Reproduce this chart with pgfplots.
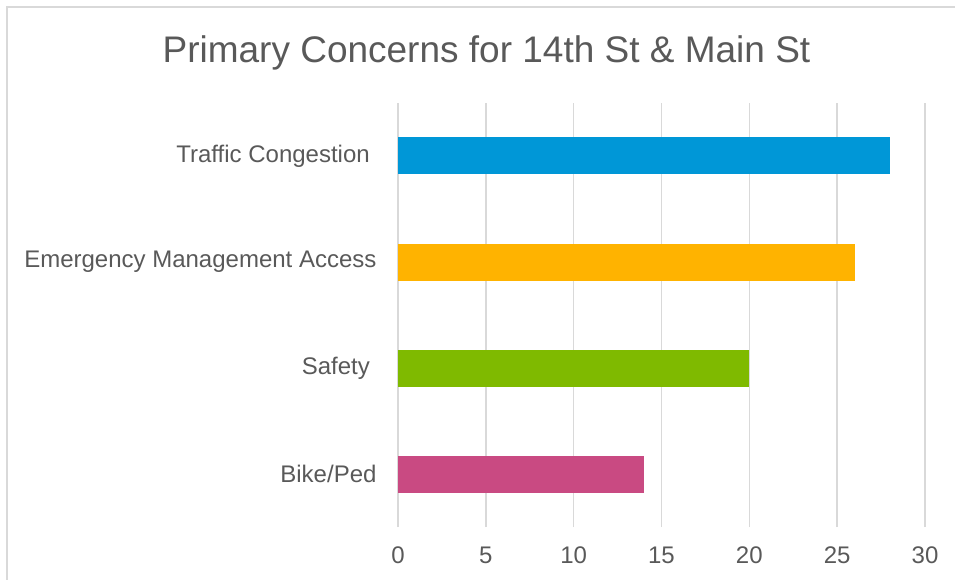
\documentclass[border=0pt]{standalone}
\usepackage{fontspec}
\setmainfont{Liberation Sans}
\usepackage{pgfplots}
\pgfplotsset{compat=1.18}
\definecolor{txt}{HTML}{595959}
\definecolor{gridc}{HTML}{D9D9D9}
\definecolor{cA}{HTML}{0097D7}
\definecolor{cB}{HTML}{FFB300}
\definecolor{cC}{HTML}{7FBA00}
\definecolor{cD}{HTML}{C94A82}
\begin{document}
\begin{tikzpicture}[x=1pt,y=1pt]
\path[use as bounding box] (0,0) rectangle (955,579);
\draw[gridc,line width=1.5pt] (7,-5) -- (7,572) -- (960,572);
\node[text=txt,font=\fontsize{37}{44}\selectfont] at (486.5,526) {Primary Concerns for 14th St \& Main St};
\begin{axis}[
  at={(398pt,52pt)}, anchor=south west,
  scale only axis, width=527pt, height=424pt,
  xmin=0, xmax=30, ymin=-0.5, ymax=3.5,
  xtick={0,5,...,30},
  ytick={0,1,2,3},
  yticklabels={Bike/Ped,Safety\ \hspace{0pt},Emergency Management Access,Traffic Congestion\ \hspace{0pt}},
  axis line style={draw=none},
  major tick length=0pt,
  xmajorgrids=true, ymajorgrids=false,
  major grid style={draw=gridc,line width=1.5pt},
  /pgf/number format/assume math mode=true,
  tick label style={text=txt,font=\fontsize{24}{28}\selectfont},
  xticklabel style={yshift=-16pt},
  yticklabel style={xshift=-18pt},
  xbar, bar width=37pt, bar shift=0pt,
]
\addplot[draw=none,fill=cD] coordinates {(14,0)};
\addplot[draw=none,fill=cC] coordinates {(20,1)};
\addplot[draw=none,fill=cB] coordinates {(26,2)};
\addplot[draw=none,fill=cA] coordinates {(28,3)};
\end{axis}
\end{tikzpicture}
\end{document}
